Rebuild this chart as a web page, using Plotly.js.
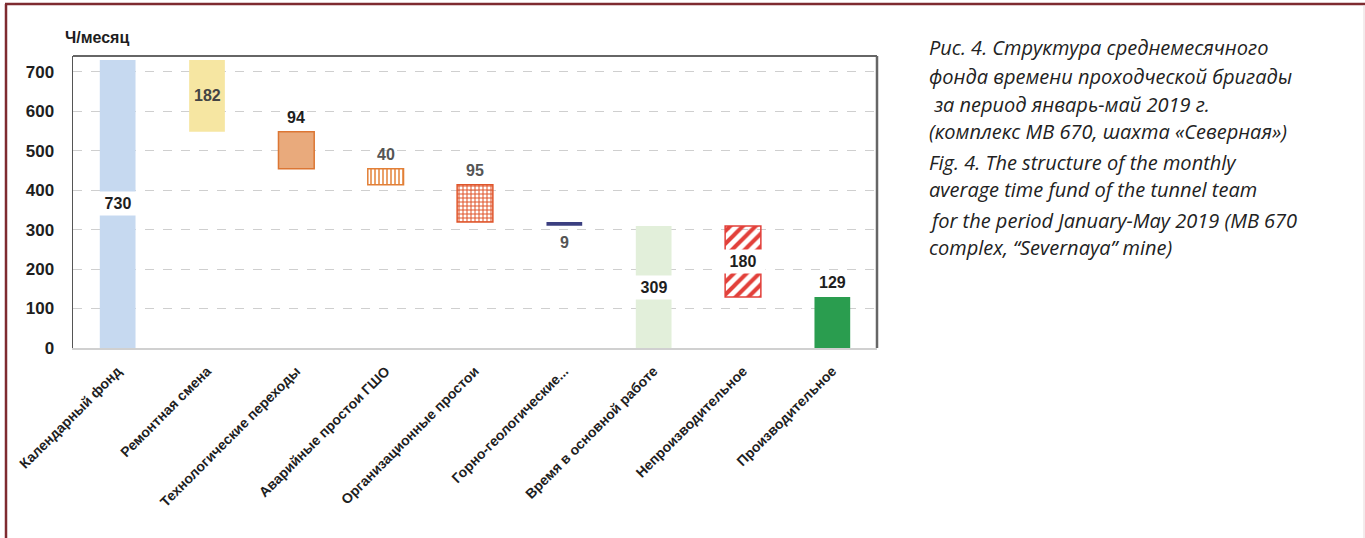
<!DOCTYPE html>
<html>
<head>
<meta charset="utf-8">
<script src="https://cdn.plot.ly/plotly-3.0.1.min.js"></script>
<style>html,body{margin:0;padding:0;background:#fff;}#chart{width:1365px;height:538px;}</style>
</head>
<body>
<div id="chart"></div>
<script>
// ---- data ----
const categories = [
  'Календарный фонд',
  'Ремонтная смена',
  'Технологические переходы',
  'Аварийные простои ГШО',
  'Организационные простои',
  'Горно-геологические...',
  'Время в основной работе',
  'Непроизводительное',
  'Производительное'
];
const values = [730, 182, 94, 40, 95, 9, 309, 180, 129];
const kinds = ['total', 'decrease', 'decrease', 'decrease', 'decrease', 'decrease', 'total', 'decrease', 'total'];
const yTickValues = [0, 100, 200, 300, 400, 500, 600, 700];
const yTickLabels = ['0', '100', '200', '300', '400', '500', '600', '700'];
const unitLabel = 'Ч/месяц';
const captionLines = [
  'Рис. 4. Структура среднемесячного',
  'фонда времени проходческой бригады',
  ' за период январь-май 2019 г.',
  '(комплекс МВ 670, шахта «Северная»)',
  'Fig. 4. The structure of the monthly',
  'average time fund of the tunnel team',
  'for the period January-May 2019 (MB 670',
  'complex, “Severnaya” mine)'
];

// ---- waterfall bases ----
const bases = [];
let running = 0;
values.forEach((v, i) => {
  if (kinds[i] === 'total') { bases.push(0); running = v; }
  else { running -= v; bases.push(running); }
});

// ---- styles ----
// with pattern fillmode 'replace', marker colour is the pattern line colour (background transparent)
const fillColors = ['#C6D9F0', '#F6E6A2', '#E9AA7C', '#E58A45', '#E0552B', '#3B3F80', '#E2EFDA', '#E2403A', '#2A9D4F'];
const patShapes  = ['', '', '', '|', '+', '', '', '/', ''];
const patSize    = [8, 8, 8, 4, 4, 8, 8, 9, 8];
const patSolid   = [0.3, 0.3, 0.3, 0.4, 0.45, 0.3, 0.3, 0.45, 0.3];
const lineColors = ['#C6D9F0', '#F6E6A2', '#DC7634', '#E27F36', '#E0552B', '#3B3F80', '#E2EFDA', '#E2403A', '#2A9D4F'];
const lineWidths = [0, 0, 1.5, 1.5, 1.5, 0, 0, 1.5, 0];
// label placement: gap = white box over bar middle, inside = centered, above / below
const labelPlace = ['gap', 'inside', 'above', 'above', 'above', 'below', 'gap', 'gap', 'above'];
const labelColor = ['#1e1e1e', '#444', '#1e1e1e', '#555', '#555', '#555', '#1e1e1e', '#1e1e1e', '#1e1e1e'];

// pixel layout helpers
const W = 1365, H = 538;
const L = 73, R = 877, T = 56, B = 348;
const px2x = p => (p - L) / (R - L);
const px2y = p => (B - p) / (B - T);

const trace = {
  type: 'bar',
  x: categories,
  y: values,
  base: bases,
  width: 0.4,
  marker: {
    color: fillColors,
    line: { color: lineColors, width: lineWidths },
    pattern: { shape: patShapes, size: patSize, solidity: patSolid, fillmode: 'replace' }
  },
  hoverinfo: 'x+y',
  showlegend: false
};

const annotations = [];
values.forEach((v, i) => {
  const top = bases[i] + v;
  const mid = bases[i] + v / 2;
  const place = labelPlace[i];
  const a = {
    x: categories[i], xref: 'x', yref: 'y', showarrow: false,
    text: String(v),
    font: { family: 'Liberation Sans, Arial, sans-serif', size: 16, color: labelColor[i], weight: 'bold' }
  };
  if (place === 'gap') {
    Object.assign(a, { y: mid, yanchor: 'middle', bgcolor: '#FFFFFF', width: 44, height: 23, borderpad: 0 });
  } else if (place === 'inside') {
    Object.assign(a, { y: mid, yanchor: 'middle' });
  } else if (place === 'above') {
    Object.assign(a, { y: top, yanchor: 'bottom', yshift: 4 });
  } else {
    Object.assign(a, { y: bases[i], yanchor: 'top', yshift: -6 });
  }
  annotations.push(a);
});

// unit label
annotations.push({
  xref: 'paper', yref: 'paper', x: px2x(63), y: px2y(38), xanchor: 'left', yanchor: 'middle',
  showarrow: false, text: unitLabel,
  font: { family: 'Liberation Sans, Arial, sans-serif', size: 16, color: '#1e1e1e', weight: 'bold' }
});

// caption
const captionY = [48, 76, 104, 131, 162, 189, 220, 247];
captionLines.forEach((t, i) => {
  annotations.push({
    xref: 'paper', yref: 'paper', x: px2x(927), y: px2y(captionY[i]), xanchor: 'left', yanchor: 'middle',
    showarrow: false, text: t.replace(/^ /, '&nbsp;'),
    font: { family: 'Open Sans, Noto Sans, sans-serif', size: 20, color: '#222', style: 'italic' }
  });
});

const shapes = [
  // plot frame top and right
  { type: 'line', xref: 'paper', yref: 'paper', x0: 0, x1: 1, y0: 1, y1: 1, line: { color: '#666', width: 2 } },
  { type: 'line', xref: 'paper', yref: 'paper', x0: 1, x1: 1, y0: 0, y1: 1, line: { color: '#666', width: 2.5 } },
  // outer figure border
  { type: 'line', xref: 'paper', yref: 'paper', x0: px2x(5), x1: px2x(1365), y0: px2y(4), y1: px2y(4), line: { color: '#7E2B30', width: 2.5 } },
  { type: 'line', xref: 'paper', yref: 'paper', x0: px2x(6), x1: px2x(6), y0: px2y(4), y1: px2y(540), line: { color: '#7E2B30', width: 2.5 } },
  { type: 'line', xref: 'paper', yref: 'paper', x0: px2x(1364), x1: px2x(1364), y0: px2y(5), y1: px2y(540), line: { color: '#E6D8DA', width: 1 } }
];

const layout = {
  width: W, height: H,
  margin: { l: L, r: W - R, t: T, b: H - B, pad: 0 },
  paper_bgcolor: '#FFFFFF', plot_bgcolor: '#FFFFFF',
  font: { family: 'Liberation Sans, Arial, sans-serif', color: '#222' },
  xaxis: {
    type: 'category', tickangle: -45, showgrid: false, ticks: '',
    showline: true, linecolor: '#D0D0D0', linewidth: 1.5,
    tickfont: { family: 'Liberation Sans, Arial, sans-serif', size: 14, color: '#1e1e1e', weight: 'bold' },
    ticklabelstandoff: 8
  },
  yaxis: {
    range: [0, 740], tickvals: yTickValues, ticktext: yTickLabels,
    showgrid: true, gridcolor: '#CFCFCF', gridwidth: 1, griddash: 'dash',
    zeroline: false, showline: true, linecolor: '#555', linewidth: 1.5, ticks: '',
    tickfont: { family: 'Liberation Sans, Arial, sans-serif', size: 17, color: '#1e1e1e', weight: 'bold' },
    ticklabelstandoff: 14
  },
  bargap: 0.6,
  annotations: annotations,
  shapes: shapes
};

Plotly.newPlot('chart', [trace], layout, { displayModeBar: false, staticPlot: true });
</script>
</body>
</html>
